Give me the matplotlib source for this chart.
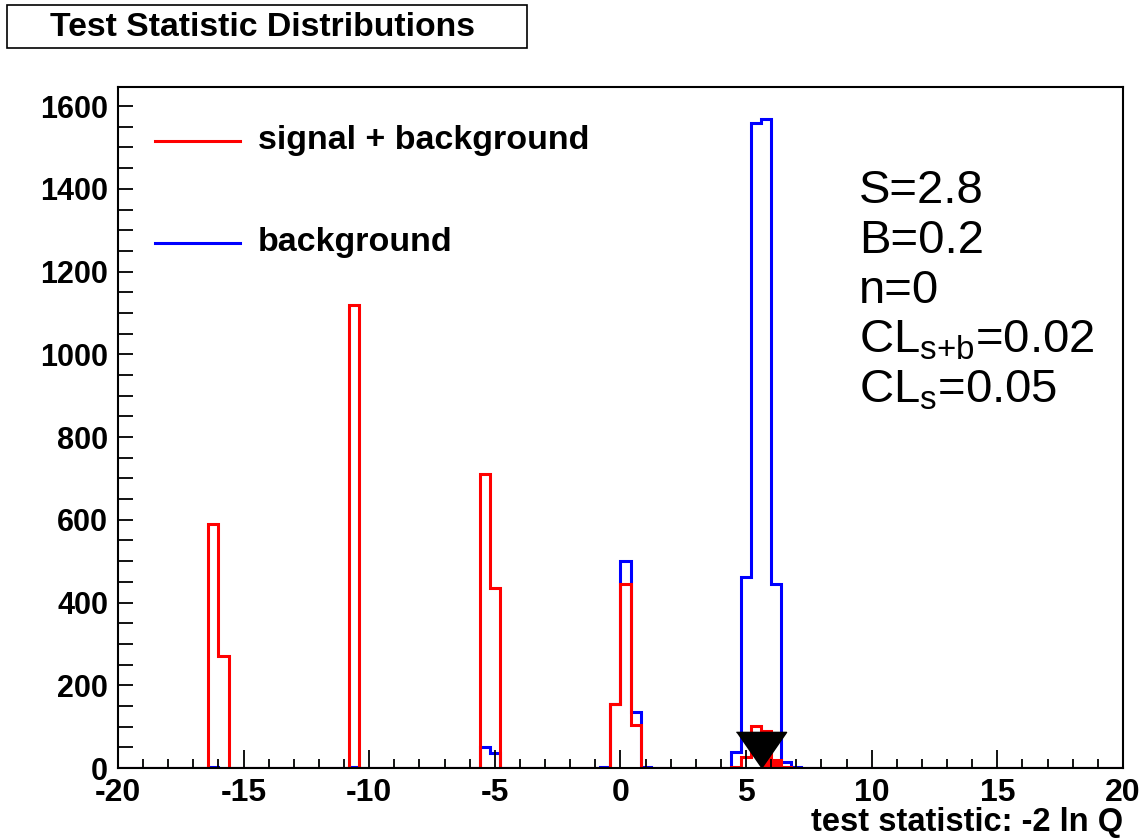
import matplotlib
matplotlib.use('Agg')

import numpy as np
import matplotlib.pyplot as plt
from matplotlib.patches import Rectangle
from matplotlib.ticker import MultipleLocator

plt.rcParams['font.family'] = ['Liberation Sans', 'DejaVu Sans']
plt.rcParams['mathtext.fontset'] = 'custom'
plt.rcParams['mathtext.rm'] = 'Liberation Sans'
plt.rcParams['mathtext.it'] = 'Liberation Sans:italic'
plt.rcParams['axes.unicode_minus'] = False

# histogram binning: 100 bins of 0.4 over [-20, 20]
edges = np.linspace(-20, 20, 101)

# signal + background toy results (bin centres, entries)
sb_centers = [-16.2, -15.8, -10.6, -5.4, -5.0, -0.2, 0.2, 0.6, 4.6, 5.0, 5.4, 5.8, 6.2, 6.6]
sb_counts = [590, 270, 1120, 710, 435, 155, 445, 105, 3, 26, 101, 89, 20, 3]

# background-only toy results
b_centers = [-16.2, -10.6, -5.4, -5.0, -0.6, -0.2, 0.2, 0.6, 1.0, 4.6, 5.0, 5.4, 5.8, 6.2, 6.6, 7.0]
b_counts = [2, 3, 50, 36, 2, 155, 500, 135, 3, 38, 461, 1560, 1568, 446, 15, 3]

# observed value of -2 ln Q
q_obs = 5.6

info_lines = ['S=2.8', 'B=0.2', 'n=0', 'CL$_{\\text{s+b}}$=0.02', 'CL$_{\\text{s}}$=0.05']

h_sb, _ = np.histogram(sb_centers, bins=edges, weights=sb_counts)
h_b, _ = np.histogram(b_centers, bins=edges, weights=b_counts)

fig = plt.figure(figsize=(11.43, 8.39), dpi=100)
ax = fig.add_axes([0.1032, 0.0846, 0.8793, 0.8121])

ax.stairs(h_b, edges, color='blue', lw=2.2, baseline=0)
ax.stairs(h_sb, edges, color='red', lw=2.2, baseline=0)

# shade the s+b tail beyond the observed value
tail = np.where(edges[:-1] >= q_obs - 1e-9, h_sb, 0)
ax.stairs(tail, edges, color='red', fill=True, lw=0)

# observed marker
ax.plot([q_obs], [0], marker=[(-25, 36), (25, 36), (0, 0)], markersize=52,
        color='black', ls='none', clip_on=False, zorder=5)

ax.set_xlim(-20, 20)
ax.set_ylim(0, 1647)

ax.xaxis.set_major_locator(MultipleLocator(5))
ax.xaxis.set_minor_locator(MultipleLocator(1))
ax.yaxis.set_major_locator(MultipleLocator(200))
ax.yaxis.set_minor_locator(MultipleLocator(50))
ax.tick_params(axis='both', which='both', direction='in', width=1.3,
               top=False, right=False)
ax.tick_params(axis='x', which='major', length=13, pad=7, labelsize=23)
ax.tick_params(axis='x', which='minor', length=6.5)
ax.tick_params(axis='y', which='both', length=11, pad=7, labelsize=22)
for lab in ax.get_xticklabels() + ax.get_yticklabels():
    lab.set_fontweight('bold')
for sp in ax.spines.values():
    sp.set_linewidth(1.5)

ax.set_xlabel('test statistic: -2 ln Q', fontsize=23.5, fontweight='bold')
ax.xaxis.set_label_coords(1.0, -0.057)
ax.xaxis.label.set_horizontalalignment('right')

# legend drawn by hand, no frame
leg = [('signal + background', 'red', 141), ('background', 'blue', 243)]
for txt, col, ypix in leg:
    yf = 1 - ypix / 839
    fig.add_artist(plt.Line2D([155 / 1143, 240 / 1143], [yf, yf], color=col, lw=2.2))
    fig.text(258 / 1143, yf, txt, fontsize=24.5, fontweight='bold', va='center', ha='left')

# fit summary
for i, s in enumerate(info_lines):
    fig.text(859 / 1143, 1 - (203 + 50 * i) / 839, s, fontsize=34, ha='left', va='baseline')

# title box
fig.add_artist(Rectangle((7 / 1143, 1 - 48 / 839), 520 / 1143, 43 / 839,
                         transform=fig.transFigure, fill=False, ec='black', lw=1.2))
fig.text(262 / 1143, 1 - 28 / 839, 'Test Statistic Distributions', fontsize=24.3,
         fontweight='bold', ha='center', va='center')

fig.savefig('out.png', dpi=100)
